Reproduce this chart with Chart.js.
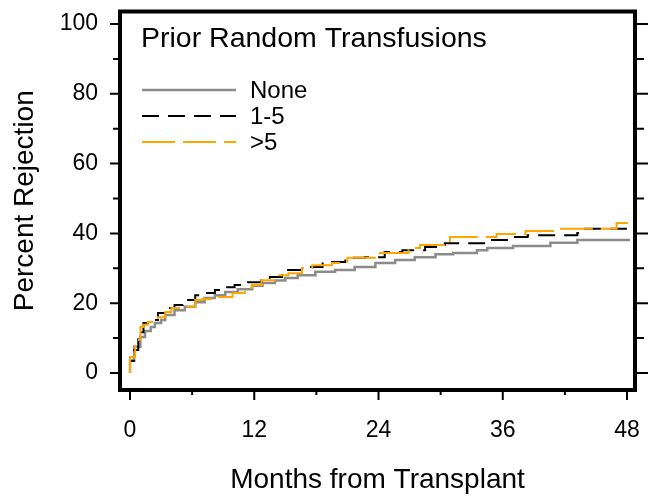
<!DOCTYPE html>
<html>
<head>
<meta charset="utf-8">
<script src="https://cdn.jsdelivr.net/npm/chart.js@4.4.1/dist/chart.umd.min.js"></script>
<style>
  html, body { margin: 0; padding: 0; background: #fff; }
  #wrap { width: 652px; height: 497px; }
</style>
</head>
<body>
<div id="wrap"><canvas id="km"></canvas></div>
<script>
// cumulative rejection
var noneMonths = [0, 0.4, 1.0, 1.45, 2.0, 2.4, 3.0, 3.4, 4.3, 5.3, 6.3, 7.2, 8.2, 9.2, 10.4, 11.8, 12.8, 14, 15, 16.2, 17.9, 19.8, 21.7, 23.7, 25.6, 27.5, 29.5, 31.2, 33.5, 34.5, 37, 40.6, 43.2, 45.4, 48.3];
var noneRej    = [0, 3.5, 7.5, 10.3, 12, 13.2, 14.3, 15.2, 16.6, 18, 19, 20.3, 21.5, 22.3, 23.2, 24, 25, 25.8, 26.5, 27.2, 28, 29, 29.5, 30.4, 31.5, 32.4, 33.2, 34, 34.4, 35.2, 35.8, 36.4, 37.3, 38.1, 38.1];

var lowMonths = [0, 0.4, 0.8, 1.3, 1.9, 2.7, 3.4, 4.3, 5.1, 6.3, 7.2, 8.2, 9.2, 10.1, 11.4, 12.7, 13.5, 14.7, 16.6, 18.6, 20.8, 22.7, 24.6, 26.3, 28.5, 30.4, 34.8, 36.4, 38.4, 43.2, 43.8, 46.7, 48.3];
var lowRej    = [0, 3.5, 6.6, 11.7, 14.3, 15.2, 17.2, 18.6, 19.5, 20.9, 22.3, 22.9, 23.8, 24.6, 25.2, 26, 26.6, 27.5, 29.5, 30.4, 31.8, 33, 33.2, 34.7, 35.2, 36.1, 37.2, 38.1, 39, 39.5, 40.1, 41.3, 41.3];

var highMonths = [0, 0.5, 1.0, 1.3, 1.7, 2.7, 3.4, 4.0, 5.3, 6.3, 7.0, 8.5, 9.9, 11.1, 11.8, 12.7, 14, 15.3, 16.6, 17.6, 19.5, 21, 24, 26.9, 28, 30.6, 30.9, 35.4, 38.2, 41.5, 47, 47.3, 48.3];
var highRej    = [0, 4.6, 9.5, 13.2, 13.8, 14.6, 16, 17.5, 18.6, 19, 20.9, 21.2, 21.8, 22.9, 24.4, 25.2, 26.6, 28, 28.6, 30.1, 30.9, 31.5, 33, 34.4, 35.8, 36.7, 37.8, 39, 39.8, 40.7, 41.3, 43, 43];

var seriesNames = ['None', '1-5', '>5'];
var xTicks = [0, 6, 12, 18, 24, 30, 36, 42, 48];
var yTicks = [0, 10, 20, 30, 40, 50, 60, 70, 80, 90, 100];
var legendTitle = 'Prior Random Transfusions';

var FONT = 'Liberation Sans, Arial, Helvetica, sans-serif';

function pts(xs, ys) {
    return xs.map(function (x, i) { return { x: x, y: ys[i] }; });
}

// frame box + tick marks outside it, like the original plot
var framePlugin = {
    id: 'frame',
    afterDraw: function (chart) {
        var c = chart.ctx, a = chart.chartArea;
        var xs = chart.scales.x, ys = chart.scales.y;
        c.save();
        c.strokeStyle = '#000';
        c.lineWidth = 2;
        c.beginPath();
        xTicks.forEach(function (v) {
            var px = xs.getPixelForValue(v);
            var len = v % 12 === 0 ? 10 : 5;
            c.moveTo(px, a.bottom);
            c.lineTo(px, a.bottom + len);
        });
        yTicks.forEach(function (v) {
            var py = ys.getPixelForValue(v);
            var major = v % 20 === 0;
            c.moveTo(a.left, py);
            c.lineTo(a.left - (major ? 10 : 7), py);
            c.moveTo(a.right, py);
            c.lineTo(a.right + (major ? 13 : 9), py);
        });
        c.stroke();
        c.lineWidth = 4;
        c.strokeRect(a.left, a.top, a.right - a.left, a.bottom - a.top);
        c.restore();
    }
};

// legend block inside the plot, with its heading
var legendPlugin = {
    id: 'insideLegend',
    afterDatasetsDraw: function (chart) {
        var c = chart.ctx;
        c.save();
        c.fillStyle = '#000';
        c.font = '28.5px ' + FONT;
        c.textBaseline = 'alphabetic';
        c.textAlign = 'left';
        c.fillText(legendTitle, 141, 47);
        c.font = '24px ' + FONT;
        c.textBaseline = 'middle';
        chart.data.datasets.forEach(function (ds, i) {
            var y = 90 + i * 26;
            c.beginPath();
            c.strokeStyle = ds.borderColor;
            c.lineWidth = ds.borderWidth;
            c.setLineDash(ds.borderDash || []);
            c.moveTo(142, y);
            c.lineTo(236, y);
            c.stroke();
            c.setLineDash([]);
            c.fillText(ds.label, 250, y + 1);
        });
        c.restore();
    }
};

var ctx = document.getElementById('km');
var chart = new Chart(ctx, {
    type: 'line',
    data: {
        datasets: [{
            label: seriesNames[0],
            data: pts(noneMonths, noneRej),
            borderColor: '#8c8c8c',
            borderWidth: 2.5,
            order: 3
        }, {
            label: seriesNames[1],
            data: pts(lowMonths, lowRej),
            borderColor: '#000000',
            borderWidth: 2,
            borderDash: [17, 9],
            order: 2
        }, {
            label: seriesNames[2],
            data: pts(highMonths, highRej),
            borderColor: '#ffa500',
            borderWidth: 2,
            borderDash: [33, 8],
            order: 1
        }]
    },
    options: {
        responsive: true,
        maintainAspectRatio: false,
        animation: false,
        layout: { padding: { top: 11.5, right: 17, left: 0, bottom: 0 } },
        datasets: { line: { stepped: 'after', fill: false, pointRadius: 0 } },
        plugins: { legend: { display: false }, tooltip: { enabled: false } },
        scales: {
            x: {
                type: 'linear',
                min: -0.966,
                max: 48.77,
                afterBuildTicks: function (s) { s.ticks = xTicks.map(function (v) { return { value: v }; }); },
                afterFit: function (s) { s.height = 107; s.paddingLeft = 0; s.paddingRight = 0; },
                ticks: {
                    autoSkip: false,
                    maxRotation: 0,
                    padding: 17,
                    color: '#000',
                    font: { family: FONT, size: 23 },
                    callback: function (v) { return v % 12 === 0 ? String(v) : ''; }
                },
                grid: { drawOnChartArea: false, drawTicks: true, tickLength: 10, color: 'transparent' },
                border: { display: false },
                title: {
                    display: true,
                    text: 'Months from Transplant',
                    color: '#000',
                    font: { family: FONT, size: 28 },
                    padding: { top: 0, bottom: 0 }
                }
            },
            y: {
                min: -4.87,
                max: 103.58,
                afterBuildTicks: function (s) { s.ticks = yTicks.map(function (v) { return { value: v }; }); },
                afterFit: function (s) { s.width = 120; s.paddingTop = 0; s.paddingBottom = 0; },
                ticks: {
                    autoSkip: false,
                    padding: 12,
                    color: '#000',
                    font: { family: FONT, size: 23 },
                    callback: function (v) { return v % 20 === 0 ? String(v) : ''; }
                },
                grid: { drawOnChartArea: false, drawTicks: true, tickLength: 10, color: 'transparent' },
                border: { display: false },
                title: {
                    display: true,
                    text: 'Percent Rejection',
                    color: '#000',
                    font: { family: FONT, size: 28 },
                    padding: { top: 8, bottom: 0 }
                }
            }
        }
    },
    plugins: [legendPlugin, framePlugin]
});
</script>
</body>
</html>
